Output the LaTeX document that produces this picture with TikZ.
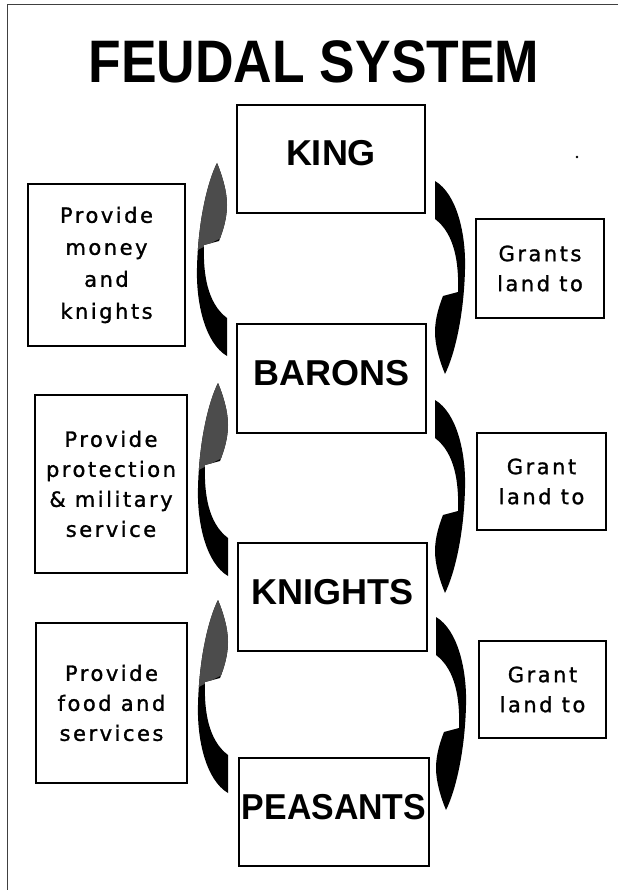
\documentclass[tikz,border=0pt]{standalone}
\usepackage{fontspec}
\setmainfont{Liberation Sans}
\newfontfamily\spacedfont[LetterSpace=12,FakeBold=1.3]{DejaVu Sans}
\def\arrowpath{(0,0) .. controls (5,12) and (10,28) .. (10,42) .. controls (10,55) and (6,68) .. (2,78) -- (-13,82) .. controls (-14,110) and (-10,140) .. (10,155) -- (10,193) .. controls (-12,180) and (-21,140) .. (-20,105) .. controls (-19,60) and (-10,20) .. (0,0) -- cycle}
\tikzset{
  bigbox/.style={draw, line width=1.2pt, inner sep=0pt, minimum width=189pt, minimum height=108pt,
    font=\bfseries\fontsize{36}{40}\selectfont, text height=26pt, text depth=12pt},
  sidebox/.style={draw, line width=1.2pt, inner sep=0pt, align=center,
    font=\spacedfont\fontsize{21}{30}\selectfont},
  uparrow/.pic={
    \fill[black] \arrowpath;
    \begin{scope}
      \clip \arrowpath;
      \fill[black!70] (-30,-5) -- (15,-5) -- (15,76) -- (2,76) -- (-25,90) -- cycle;
    \end{scope}
  },
  downarrow/.pic={
    \fill[black] \arrowpath;
  },
}
\begin{document}
\begin{tikzpicture}[x=1pt,y=-1pt]
\useasboundingbox (0,0) rectangle (618,890);
\fill[white] (0,0) rectangle (618,890);
% frame
\draw[line width=1pt, black!75] (618,5) -- (7,5) -- (7,890);
% title
\node[font=\bfseries\fontsize{60}{60}\selectfont, inner sep=0pt] (title) at (314,61.5) {\scalebox{0.89}[1]{FEUDAL SYSTEM}};
% main boxes
\node[bigbox, minimum width=188pt] (king) at (331,159) {KING};
\node[bigbox, minimum height=109pt] (barons) at (331.5,378.5) {BARONS};
\node[bigbox] (knights) at (332.5,597) {KNIGHTS};
\node[bigbox, minimum width=190pt] (peasants) at (334,812) {\scalebox{0.94}[1]{PEASANTS}};
% left boxes
\node[sidebox, minimum width=157pt, minimum height=162pt, font=\spacedfont\fontsize{21}{32}\selectfont] (l1) at (106.5,265) {Provide\\money\\and\\knights};
\node[sidebox, minimum width=152pt, minimum height=178pt] (l2) at (111,484) {Provide\\protection\\\& military\\service};
\node[sidebox, minimum width=151pt, minimum height=160pt] (l3) at (111.5,703) {Provide\\food and\\services};
% right boxes
\node[sidebox, minimum width=128pt, minimum height=99pt] (r1) at (540,268.5) {Grants\\land to};
\node[sidebox, minimum width=129pt, minimum height=97pt] (r2) at (541.5,481.5) {Grant\\land to};
\node[sidebox, minimum width=127pt, minimum height=97pt] (r3) at (542.5,689.5) {Grant\\land to};
% curved arrows (left: upward, right: downward)
\pic at (217,163) {uparrow};
\pic at (218,383) {uparrow};
\pic at (218,600) {uparrow};
\pic[rotate=180] at (445,374) {downarrow};
\pic[rotate=180] at (445,593) {downarrow};
\pic[rotate=180] at (446,810) {downarrow};
% speck
\fill (577,157) circle (1.4);
\end{tikzpicture}
\end{document}
